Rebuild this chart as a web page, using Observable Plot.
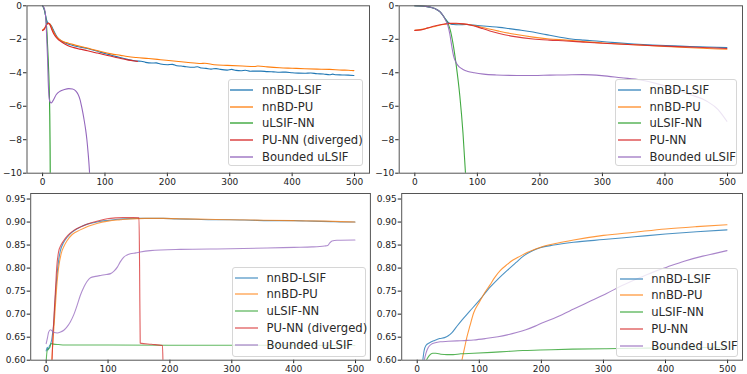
<!DOCTYPE html>
<html><head><meta charset="utf-8">
<script src="https://cdn.jsdelivr.net/npm/d3@7"></script>
<script src="https://cdn.jsdelivr.net/npm/@observablehq/plot@0.6"></script>
<style>
body{margin:0;background:#fff;}
#root{position:relative;width:747px;height:374px;font-family:"DejaVu Sans",sans-serif;}
.panel{position:absolute;}
.legend{position:absolute;background:rgba(255,255,255,0.8);border:1px solid #d6d6d6;border-radius:3px;box-sizing:border-box;font-size:11.6px;color:#2a2a2a;}
.row{display:flex;align-items:center;white-space:nowrap;}
.row svg{flex:none;}
</style></head><body><div id="root"></div><script>
// ---------- labels & ticks ----------
const namesLeft = ["nnBD-LSIF","nnBD-PU","uLSIF-NN","PU-NN (diverged)","Bounded uLSIF"];
const namesRight = ["nnBD-LSIF","nnBD-PU","uLSIF-NN","PU-NN","Bounded uLSIF"];
const colors = ["#1f77b4","#ff7f0e","#2ca02c","#d62728","#9467bd"];
const xTicks = [0,100,200,300,400,500];
const topYTicks = [0,-2,-4,-6,-8,-10];
const bottomYTicks = [0.60,0.65,0.70,0.75,0.80,0.85,0.90,0.95];

// ---------- top-left panel ----------
const tlLsif = [[0,0],[2,-0.15],[4,-0.45],[6,-0.8],[8,-1.0],[10,-1.08],[12,-1.1],[14,-1.2],[17,-1.42],[20,-1.65],[24,-1.9],[29,-2.07],[35,-2.2],[45,-2.33],[55,-2.43],[65,-2.5],[75,-2.58],[82,-2.66],[90,-2.74],[100,-2.85],[110,-2.95],[120,-3.05],[136,-3.2],[150,-3.3],[158,-3.31],[165,-3.38],[175,-3.42],[182,-3.41],[189,-3.48],[200,-3.52],[208,-3.5],[215,-3.58],[222,-3.6],[230,-3.64],[242,-3.67],[248,-3.64],[255,-3.72],[262,-3.74],[270,-3.78],[278,-3.75],[285,-3.8],[296,-3.84],[303,-3.8],[310,-3.86],[318,-3.88],[325,-3.85],[333,-3.91],[340,-3.9],[350,-3.9],[360,-3.93],[370,-3.95],[380,-3.97],[390,-3.96],[400,-4.0],[410,-4.02],[420,-4.03],[430,-4.01],[440,-4.06],[450,-4.07],[460,-4.12],[465,-4.08],[470,-4.12],[480,-4.13],[490,-4.14],[499,-4.16]];
const tlPu = [[0,-1.45],[3,-1.35],[6,-1.15],[9,-1.05],[12,-1.1],[15,-1.35],[19,-1.65],[24,-1.92],[30,-2.08],[38,-2.2],[45,-2.27],[55,-2.37],[65,-2.46],[75,-2.56],[82,-2.63],[95,-2.75],[110,-2.87],[125,-2.96],[136,-3.03],[150,-3.09],[170,-3.15],[189,-3.22],[210,-3.3],[230,-3.37],[254,-3.45],[260,-3.43],[275,-3.52],[296,-3.56],[320,-3.6],[340,-3.63],[345,-3.6],[360,-3.65],[380,-3.7],[400,-3.73],[420,-3.76],[440,-3.78],[460,-3.8],[480,-3.84],[490,-3.85],[499,-3.87]];
const tlUlsif = [[0,0],[4,-0.4],[7,-1.6],[9,-3.2],[10.5,-4.8],[11.5,-6.5],[12,-8.5],[12.3,-10.5]];
const tlPunn = [[0,-1.48],[3,-1.38],[6,-1.15],[9,-1.03],[11,-1.08],[14,-1.35],[18,-1.68],[24,-1.97],[30,-2.15],[40,-2.37],[50,-2.5],[60,-2.59],[72,-2.68],[85,-2.8],[104,-2.97],[120,-3.1],[136,-3.23],[145,-3.28],[152,-3.32]];
const tlBounded = [[0,0],[2,-0.1],[4,-0.35],[5.5,-1.0],[6.5,-1.8],[8,-3.2],[9,-4.5],[10.5,-5.5],[12,-5.75],[14,-5.8],[17,-5.65],[22,-5.3],[28,-5.1],[35,-5.0],[42,-4.95],[48,-4.97],[53,-5.08],[57,-5.3],[60,-5.6],[63,-6.1],[66,-6.7],[69,-7.4],[71,-8.0],[73,-8.8],[75,-9.8],[76,-10.5]];

// ---------- top-right panel ----------
const trLsif = [[0,0],[10,-0.01],[20,-0.05],[28,-0.12],[34,-0.2],[40,-0.35],[45,-0.58],[49,-0.8],[53,-0.98],[57,-1.08],[62,-1.12],[70,-1.13],[82,-1.12],[100,-1.18],[120,-1.24],[135,-1.29],[150,-1.36],[170,-1.46],[189,-1.57],[210,-1.72],[230,-1.86],[250,-1.98],[270,-2.05],[295,-2.12],[320,-2.2],[350,-2.28],[380,-2.34],[414,-2.39],[440,-2.43],[467,-2.46],[499,-2.5]];
const trPu = [[0,-1.47],[15,-1.38],[30,-1.25],[45,-1.12],[60,-1.06],[70,-1.07],[85,-1.12],[100,-1.22],[115,-1.36],[135,-1.52],[160,-1.7],[189,-1.87],[215,-1.98],[242,-2.05],[270,-2.14],[300,-2.22],[350,-2.33],[400,-2.43],[450,-2.52],[499,-2.6]];
const trUlsif = [[0,0],[10,-0.01],[20,-0.05],[28,-0.12],[34,-0.2],[40,-0.35],[45,-0.58],[49,-0.8],[53,-1.05],[57,-1.5],[61,-2.25],[66,-3.5],[72,-5.4],[77,-7.6],[81,-10],[84,-12]];
const trPunn = [[0,-1.47],[10,-1.44],[21,-1.32],[35,-1.18],[45,-1.1],[55,-1.05],[66,-1.04],[78,-1.08],[90,-1.16],[100,-1.26],[108,-1.36],[120,-1.5],[135,-1.65],[160,-1.84],[189,-1.98],[215,-2.05],[242,-2.1],[270,-2.17],[300,-2.24],[350,-2.33],[400,-2.41],[450,-2.48],[499,-2.55]];
const trBounded = [[0,0],[10,-0.01],[20,-0.05],[28,-0.12],[34,-0.2],[40,-0.35],[45,-0.58],[49,-0.85],[53,-1.2],[56,-1.7],[59,-2.4],[62,-3.0],[66,-3.4],[71,-3.65],[77,-3.8],[85,-3.92],[95,-4.0],[110,-4.08],[130,-4.13],[163,-4.16],[190,-4.16],[216,-4.14],[240,-4.13],[269,-4.11],[299,-4.17],[330,-4.3],[361,-4.43],[387,-4.65],[414,-4.97],[440,-5.3],[467,-5.7],[485,-6.2],[499,-6.9]];

// ---------- bottom-left panel ----------
const blLsif = [[0,0.62],[2,0.628],[3,0.622],[5,0.63],[7,0.635],[9,0.645],[11,0.665],[12.3,0.679],[14,0.72],[16,0.76],[17.8,0.788],[20,0.815],[23,0.838],[28,0.855],[34,0.867],[42,0.878],[55,0.889],[68,0.896],[82,0.9],[95,0.903],[109,0.905],[125,0.907],[146,0.908],[170,0.908],[189,0.908],[210,0.907],[240,0.906],[270,0.905],[297,0.905],[330,0.904],[360,0.903],[400,0.903],[430,0.902],[460,0.901],[480,0.9],[499,0.9]];
const blPu = [[8,0.58],[10,0.62],[12,0.66],[14,0.7],[16,0.74],[18,0.775],[20,0.8],[24,0.83],[29,0.848],[34,0.86],[42,0.873],[55,0.883],[68,0.891],[82,0.897],[100,0.902],[120,0.905],[136,0.907],[160,0.908],[189,0.908],[220,0.907],[260,0.906],[300,0.905],[350,0.904],[400,0.903],[450,0.902],[499,0.9]];
const blUlsif = [[0,0.597],[1,0.615],[2,0.622],[4,0.625],[6,0.628],[8,0.636],[12,0.635],[20,0.634],[30,0.633],[60,0.633],[100,0.633],[200,0.6325],[300,0.6325],[400,0.6322],[499,0.632]];
const blPunn = [[9,0.57],[10,0.62],[12,0.68],[15,0.752],[17,0.8],[20,0.835],[24,0.85],[28.5,0.86],[35,0.871],[44.6,0.882],[58,0.891],[71.6,0.898],[85,0.903],[98.6,0.907],[112,0.909],[125,0.91],[140,0.91],[150,0.9095],[151,0.8],[152,0.637],[170,0.6345],[188,0.632],[189,0.58],[190,0.5]];
const blBounded = [[0,0.636],[2,0.648],[4,0.661],[7,0.666],[10,0.663],[13,0.66],[18,0.659],[23,0.661],[28.5,0.665],[34,0.673],[39,0.683],[45,0.7],[50,0.719],[55,0.74],[61,0.759],[66,0.771],[71.6,0.779],[80,0.782],[88,0.784],[97,0.786],[104,0.788],[110,0.794],[115,0.802],[120,0.814],[125.5,0.824],[130,0.828],[136,0.831],[145,0.833],[152,0.835],[168,0.838],[217,0.8406],[298,0.842],[357,0.8435],[400,0.845],[430,0.846],[450,0.848],[455,0.849],[458,0.854],[462,0.859],[470,0.8605],[499,0.861]];

// ---------- bottom-right panel ----------
const brLsif = [[9,0.6],[11,0.62],[14,0.632],[20,0.638],[28,0.643],[36,0.647],[44,0.649],[50,0.653],[56,0.66],[63,0.672],[72,0.687],[85,0.707],[100,0.73],[117,0.758],[130,0.776],[145,0.795],[160,0.813],[171,0.826],[185,0.837],[198,0.844],[220,0.85],[252,0.856],[300,0.862],[350,0.868],[400,0.874],[450,0.879],[499,0.883]];
const brPu = [[72,0.6],[76,0.625],[80,0.65],[85,0.675],[91,0.703],[100,0.726],[108,0.745],[117,0.763],[125,0.78],[134,0.795],[145,0.808],[155,0.818],[166,0.826],[177,0.834],[190,0.841],[200,0.846],[225,0.854],[252,0.861],[300,0.871],[350,0.878],[400,0.885],[450,0.89],[499,0.894]];
const brUlsif = [[13,0.595],[16,0.603],[20,0.611],[25,0.615],[30,0.615],[38,0.613],[48,0.612],[58,0.612],[70,0.614],[91,0.615],[120,0.617],[144,0.619],[170,0.621],[198,0.622],[250,0.624],[305,0.625],[360,0.626],[420,0.627],[499,0.628]];
const brPunn = [[0,0.5],[100,0.5],[200,0.5],[300,0.5],[400,0.5],[499,0.5]];
const brBounded = [[11,0.598],[14,0.615],[18,0.628],[23,0.635],[29,0.638],[37,0.64],[50,0.641],[64,0.642],[80,0.643],[91,0.644],[110,0.647],[130,0.651],[145,0.655],[160,0.66],[175,0.666],[190,0.674],[200,0.68],[225,0.694],[252,0.711],[280,0.729],[305,0.745],[330,0.762],[360,0.78],[385,0.794],[402,0.802],[430,0.815],[460,0.826],[480,0.832],[499,0.838]];

const root = document.getElementById("root");

function panel(cfg) {
  const marks = cfg.series.map((pts, i) => Plot.line(pts, {
    x: d => d[0], y: d => d[1], stroke: colors[i], strokeWidth: 1.1,
    strokeOpacity: cfg.opacity, curve: "monotone-x", clip: true
  }));
  const svg = Plot.plot({
    width: cfg.w, height: cfg.h,
    marginLeft: cfg.ml, marginRight: cfg.mr, marginTop: cfg.mt, marginBottom: cfg.mb,
    x: {domain: [-25, 524], ticks: xTicks, tickSize: 3.5, tickPadding: 1.5, label: null, tickFormat: d3.format("d")},
    y: {domain: cfg.yDomain, ticks: cfg.yTicks, tickSize: 3.5, tickPadding: 1.5, label: null, tickFormat: cfg.yFormat},
    style: {fontFamily: "DejaVu Sans", fontSize: "9px", color: "#222", background: "transparent", overflow: "visible"},
    marks: [...marks, Plot.frame({stroke: "#555", strokeWidth: 1})]
  });
  svg.classList.add("panel");
  svg.style.left = cfg.left + "px";
  svg.style.top = cfg.top + "px";
  root.appendChild(svg);

  const lg = document.createElement("div");
  lg.className = "legend";
  const L = cfg.legend;
  Object.assign(lg.style, {left: L.x + "px", top: L.y + "px", width: L.w + "px", height: L.h + "px", paddingTop: L.pt + "px", paddingLeft: L.pl + "px"});
  cfg.names.forEach((name, i) => {
    const row = document.createElement("div");
    row.className = "row";
    row.style.height = L.rh + "px";
    row.innerHTML = `<svg width="23" height="6"><line x1="0" x2="23" y1="3" y2="3" stroke="${colors[i]}" stroke-opacity="${cfg.opacity}" stroke-width="1.3"/></svg><span style="margin-left:8.5px">${name}</span>`;
    lg.appendChild(row);
  });
  root.appendChild(lg);
}

const topFmt = d3.format("d");
const botFmt = d3.format(".2f");

panel({left: 0, top: 0, w: 373, h: 187, ml: 26.5, mr: 4, mt: 5.3, mb: 14.3,
  yDomain: [-10, 0], yTicks: topYTicks, yFormat: topFmt, opacity: 1,
  series: [tlLsif, tlPu, tlUlsif, tlPunn, tlBounded], names: namesLeft,
  legend: {x: 227.7, y: 79.3, w: 135.6, h: 86.4, pt: 1.6, pl: 1.8, rh: 16.6}});
panel({left: 373, top: 0, w: 374, h: 187, ml: 25.7, mr: 5, mt: 5.3, mb: 14.3,
  yDomain: [-10, 0], yTicks: topYTicks, yFormat: topFmt, opacity: 0.9,
  series: [trLsif, trPu, trUlsif, trPunn, trBounded], names: namesRight,
  legend: {x: 614.7, y: 79.3, w: 122.3, h: 86.4, pt: 1.6, pl: 2.3, rh: 16.6}});
panel({left: 0, top: 187, w: 373, h: 187, ml: 30.2, mr: 3.1, mt: 6, mb: 14.3,
  yDomain: [0.6, 0.962], yTicks: bottomYTicks, yFormat: botFmt, opacity: 0.75,
  series: [blLsif, blPu, blUlsif, blPunn, blBounded], names: namesLeft,
  legend: {x: 231.7, y: 267, w: 134.3, h: 90, pt: 1.2, pl: 2.3, rh: 16.85}});
panel({left: 373, top: 187, w: 374, h: 187, ml: 28.2, mr: 5, mt: 6, mb: 14.3,
  yDomain: [0.6, 0.962], yTicks: bottomYTicks, yFormat: botFmt, opacity: 0.8,
  series: [brLsif, brPu, brUlsif, brPunn, brBounded], names: namesRight,
  legend: {x: 615.7, y: 268, w: 122.3, h: 89, pt: 1.2, pl: 3, rh: 16.85}});
</script></body></html>
